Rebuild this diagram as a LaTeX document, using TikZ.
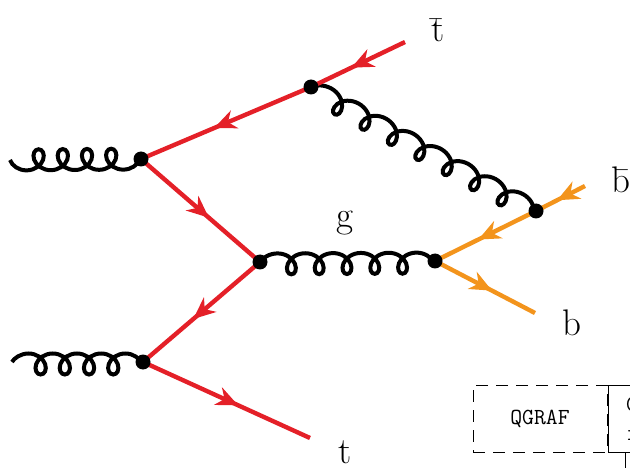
\documentclass[tikz,border=0pt]{standalone}
\usetikzlibrary{decorations.pathmorphing,decorations.markings,arrows.meta}
\definecolor{topred}{RGB}{228,32,40}
\definecolor{botorange}{RGB}{243,148,28}
\tikzset{
  quark/.style={line width=4.4pt, draw=#1, postaction={decorate},
    decoration={markings, mark=at position 0.57 with
      {\arrow[#1]{Stealth[length=22pt,width=19pt,inset=7pt]}}}},
  gluon/.style={line width=4pt, black, decorate,
    decoration={coil, amplitude=10.5pt, aspect=1.0, segment length=#1, raise=-2pt}},
  gluonflip/.style={line width=4pt, black, decorate,
    decoration={coil, amplitude=10.5pt, aspect=1.0, segment length=#1, mirror}},
  vtx/.style={circle, fill=black, inner sep=0pt, minimum size=15pt},
  lbl/.style={font=\fontsize{37}{40}\selectfont, inner sep=0pt},
  ttbox/.style={font=\fontsize{23}{29}\selectfont\ttfamily, line width=1pt,
    minimum height=67pt, inner sep=0pt}
}
\begin{document}
\begin{tikzpicture}[x=1pt,y=-1pt]
\useasboundingbox (0,0) rectangle (630,468);

% vertices
\coordinate (A) at (141,159);
\coordinate (B) at (143,362);
\coordinate (C) at (260,262);
\coordinate (D) at (311,87);
\coordinate (E) at (536,211);
\coordinate (F) at (435,261);

% external ends
\coordinate (gin1) at (10,160);
\coordinate (gin2) at (12,362);
\coordinate (tbarEnd) at (405,42);
\coordinate (tEnd) at (310,438);
\coordinate (bbarEnd) at (585,186);
\coordinate (bEnd) at (535,313);

% gluons (segment lengths chosen so the coils fill each line)
\draw[gluonflip=24.2pt] (gin1) -- (A);
\draw[gluon=24.2pt] (gin2) -- (B);
\draw[gluon=27.8pt] (C) -- (F);
\draw[gluon=31.3pt] (D) -- (E);

% top quark line
\draw[quark=topred] (tbarEnd) -- (D);
\draw[quark=topred] (D) -- (A);
\draw[quark=topred] (A) -- (C);
\draw[quark=topred] (C) -- (B);
\draw[quark=topred] (B) -- (tEnd);

% bottom quark line
\draw[quark=botorange] (bbarEnd) -- (E);
\draw[quark=botorange] (E) -- (F);
\draw[quark=botorange] (F) -- (bEnd);

% vertex dots
\foreach \v in {A,B,C,D,E,F} \node[vtx] (dot\v) at (\v) {};

% labels
\node[lbl, anchor=base] (ltbar) at (438,42) {\={t}};
\node[lbl, anchor=base] (lbbar) at (621,193) {\={b}};
\node[lbl, anchor=base] (lb) at (572,335) {b};
\node[lbl, anchor=base] (lt) at (345,463) {t};
\node[lbl, anchor=base] (lg) at (345,228) {g};

% program boxes
\node[ttbox, draw, dash pattern=on 12pt off 8pt, minimum width=134pt] (qgraf) at (540,418.5) {QGRAF};
\node[ttbox, draw, anchor=west, align=left, inner xsep=18pt] (nextbox) at (qgraf.east) {C\\i};
\coordinate (stub) at (625,470);
\draw[line width=1pt] (nextbox.south -| stub) -- (stub);
\end{tikzpicture}
\end{document}
